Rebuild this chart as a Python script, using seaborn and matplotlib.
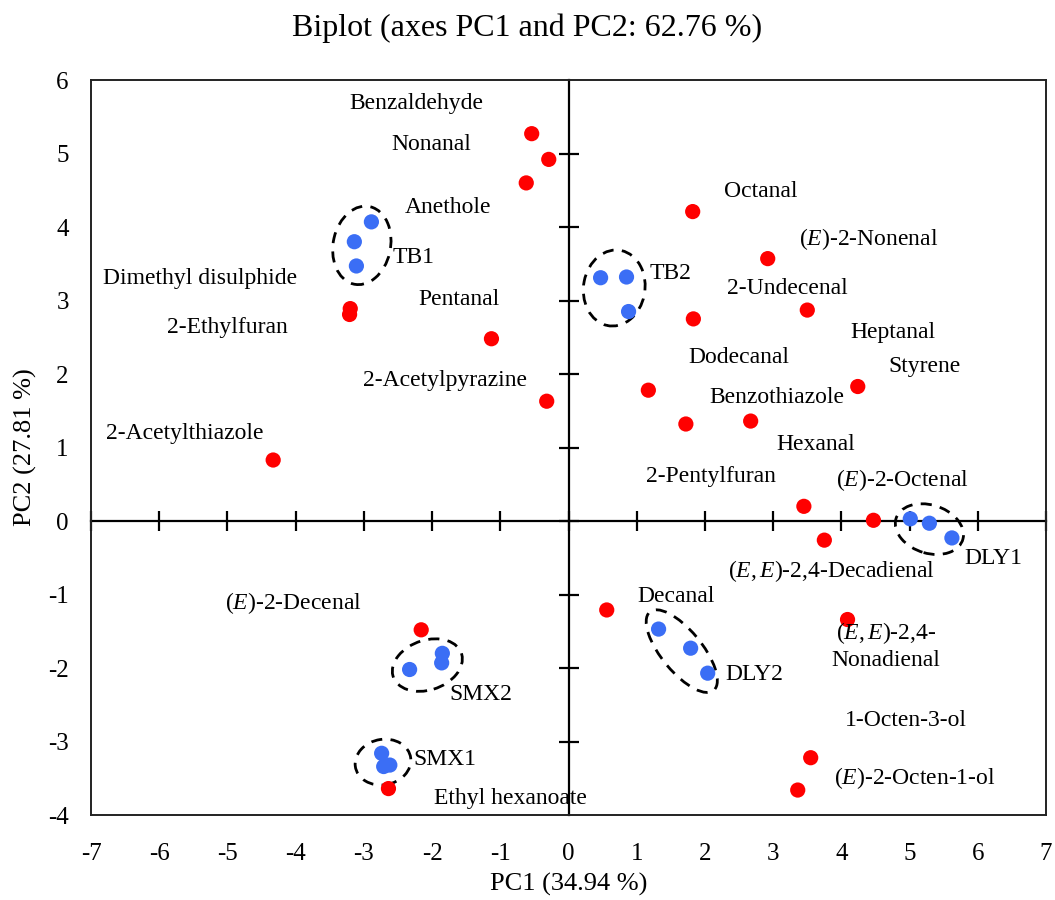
import numpy as np
import pandas as pd
import matplotlib
matplotlib.use("Agg")
import matplotlib.pyplot as plt
from matplotlib.patches import Ellipse
import seaborn as sns

# ========== DATA ==========
# variables (red) - PC1 / PC2 coordinates
var_pc1 = [-0.54, -0.29, -0.62, -3.20, -3.21, -1.13, -0.32, -4.33,
           1.82, 2.92, 3.50, 1.83, 4.24, 1.17, 1.72, 2.67,
           3.45, 4.47, 3.75, 0.56, 4.09, 3.55, 3.36, -2.16, -2.64]
var_pc2 = [5.27, 4.92, 4.60, 2.89, 2.81, 2.48, 1.63, 0.83,
           4.21, 3.57, 2.87, 2.75, 1.83, 1.78, 1.32, 1.36,
           0.20, 0.01, -0.26, -1.21, -1.34, -3.22, -3.66, -1.48, -3.64]

# observations (blue), three replicates per sample
samples = ["TB1", "TB2", "DLY1", "DLY2", "SMX2", "SMX1"]
obs_sample = [s for s in samples for _ in range(3)]
obs_pc1 = [-2.89, -3.14, -3.11,
           0.47, 0.85, 0.88,
           5.01, 5.29, 5.62,
           1.32, 1.79, 2.04,
           -2.33, -1.85, -1.86,
           -2.74, -2.71, -2.62]
obs_pc2 = [4.07, 3.80, 3.47,
           3.31, 3.32, 2.85,
           0.03, -0.03, -0.23,
           -1.47, -1.73, -2.07,
           -2.02, -1.80, -1.93,
           -3.16, -3.34, -3.32]

# variable names and where they are written on the chart
var_names = ["Benzaldehyde", "Nonanal", "Anethole", "Dimethyl disulphide",
             "2-Ethylfuran", "Pentanal", "2-Acetylpyrazine", "2-Acetylthiazole",
             "Octanal", r"($\mathit{E}$)-2-Nonenal", "2-Undecenal", "Heptanal",
             "Dodecanal", "Styrene", "Benzothiazole", "Hexanal", "2-Pentylfuran",
             r"($\mathit{E}$)-2-Octenal", r"($\mathit{E,E}$)-2,4-Decadienal",
             "Decanal", r"($\mathit{E,E}$)-2,4-" + "\nNonadienal", "1-Octen-3-ol",
             r"($\mathit{E}$)-2-Octen-1-ol", r"($\mathit{E}$)-2-Decenal",
             "Ethyl hexanoate"]
var_label_xy = [(-2.23, 5.68), (-2.01, 5.12), (-1.76, 4.26), (-5.40, 3.30),
                (-5.00, 2.63), (-1.60, 3.01), (-1.81, 1.91), (-5.62, 1.19),
                (2.82, 4.48), (4.40, 3.84), (3.21, 3.17), (4.75, 2.56),
                (2.50, 2.23), (5.22, 2.10), (3.05, 1.68), (3.62, 1.04),
                (2.09, 0.61), (4.90, 0.56), (3.86, -0.68),
                (1.58, -1.03), (4.65, -1.70), (4.94, -2.71),
                (5.07, -3.49), (-4.03, -1.12), (-0.85, -3.77)]

# sample names, their positions, and the dashed ellipses around each group
sample_label_xy = [(-2.27, 3.58), (1.49, 3.37), (6.23, -0.51),
                   (2.73, -2.09), (-1.29, -2.36), (-1.82, -3.24)]
ell_center = [(-3.03, 3.75), (0.67, 3.17), (5.29, -0.11),
              (1.66, -1.77), (-2.07, -1.96), (-2.72, -3.28)]
ell_size = [(0.84, 1.08), (0.90, 1.04), (1.02, 0.66),
            (1.42, 0.58), (1.05, 0.68), (0.82, 0.62)]
ell_angle = [-14, -12, -15, -48, 16, 8]

x_ticks = list(range(-7, 8))
y_ticks = list(range(-4, 7))

# ========== STYLE ==========
sns.set_theme(style="white")
plt.rcParams['font.family'] = ['Liberation Serif', 'DejaVu Serif']
plt.rcParams['mathtext.fontset'] = 'custom'
plt.rcParams['mathtext.rm'] = 'Liberation Serif'
plt.rcParams['mathtext.it'] = 'Liberation Serif:italic'
plt.rcParams['text.color'] = 'black'
plt.rcParams['axes.labelcolor'] = 'black'

df = pd.concat([
    pd.DataFrame({"PC1": var_pc1, "PC2": var_pc2, "kind": "Variables"}),
    pd.DataFrame({"PC1": obs_pc1, "PC2": obs_pc2, "kind": "Observations"}),
], ignore_index=True)

fig = plt.figure(figsize=(10.55, 9), dpi=100)
ax = fig.add_axes([0.0863, 0.0944, 0.9052, 0.8167])

sns.scatterplot(data=df, x="PC1", y="PC2", hue="kind",
                palette={"Variables": "#ff0000", "Observations": "#3b6ef5"},
                s=120, linewidth=0, legend=False, ax=ax, zorder=3)

ax.set_xlim(-7, 7)
ax.set_ylim(-4, 6)
ax.set_xticks(x_ticks)
ax.set_yticks(y_ticks)
ax.set_xticklabels([str(t) for t in x_ticks])
ax.set_yticklabels([str(t) for t in y_ticks])
ax.tick_params(axis='both', length=0, labelsize=18, colors='black')
ax.tick_params(axis='x', pad=20)
ax.tick_params(axis='y', pad=16)
for sp in ax.spines.values():
    sp.set_color('#222222')
    sp.set_linewidth(1.4)

# zero axes crossing the plot, with inout ticks
x0 = (0 - ax.get_xlim()[0]) / (ax.get_xlim()[1] - ax.get_xlim()[0])
y0 = (0 - ax.get_ylim()[0]) / (ax.get_ylim()[1] - ax.get_ylim()[0])
sx = ax.secondary_xaxis(y0)
sx.set_xticks(x_ticks)
sx.tick_params(axis='x', direction='inout', length=14, width=1.6,
               labelbottom=False, labeltop=False, colors='black')
for sp in sx.spines.values():
    sp.set_linewidth(1.6)
    sp.set_color('black')
sy = ax.secondary_yaxis(x0)
sy.set_yticks(y_ticks[1:-1])
sy.tick_params(axis='y', direction='inout', length=14, width=1.6,
               labelleft=False, labelright=False, colors='black')
for sp in sy.spines.values():
    sp.set_linewidth(1.6)
    sp.set_color('black')

# labels
for name, (lx, ly) in zip(var_names, var_label_xy):
    ax.text(lx, ly, name, fontsize=17, ha='center', va='center',
            linespacing=1.25, zorder=4)
for name, (lx, ly) in zip(samples, sample_label_xy):
    ax.text(lx, ly, name, fontsize=17, ha='center', va='center', zorder=4)

for (cx, cy), (w, h), a in zip(ell_center, ell_size, ell_angle):
    ax.add_patch(Ellipse((cx, cy), w, h, angle=a, fill=False,
                         edgecolor='black', linewidth=2.0,
                         linestyle=(0, (4, 3)), zorder=2))

ax.set_xlabel("PC1 (34.94 %)", fontsize=19, labelpad=6)
ax.set_ylabel("PC2 (27.81 %)", fontsize=19, labelpad=8)
fig.suptitle("Biplot (axes PC1 and PC2: 62.76 %)", fontsize=23,
             x=0.5, y=0.985, va='top')

fig.savefig("out.png", dpi=100)
